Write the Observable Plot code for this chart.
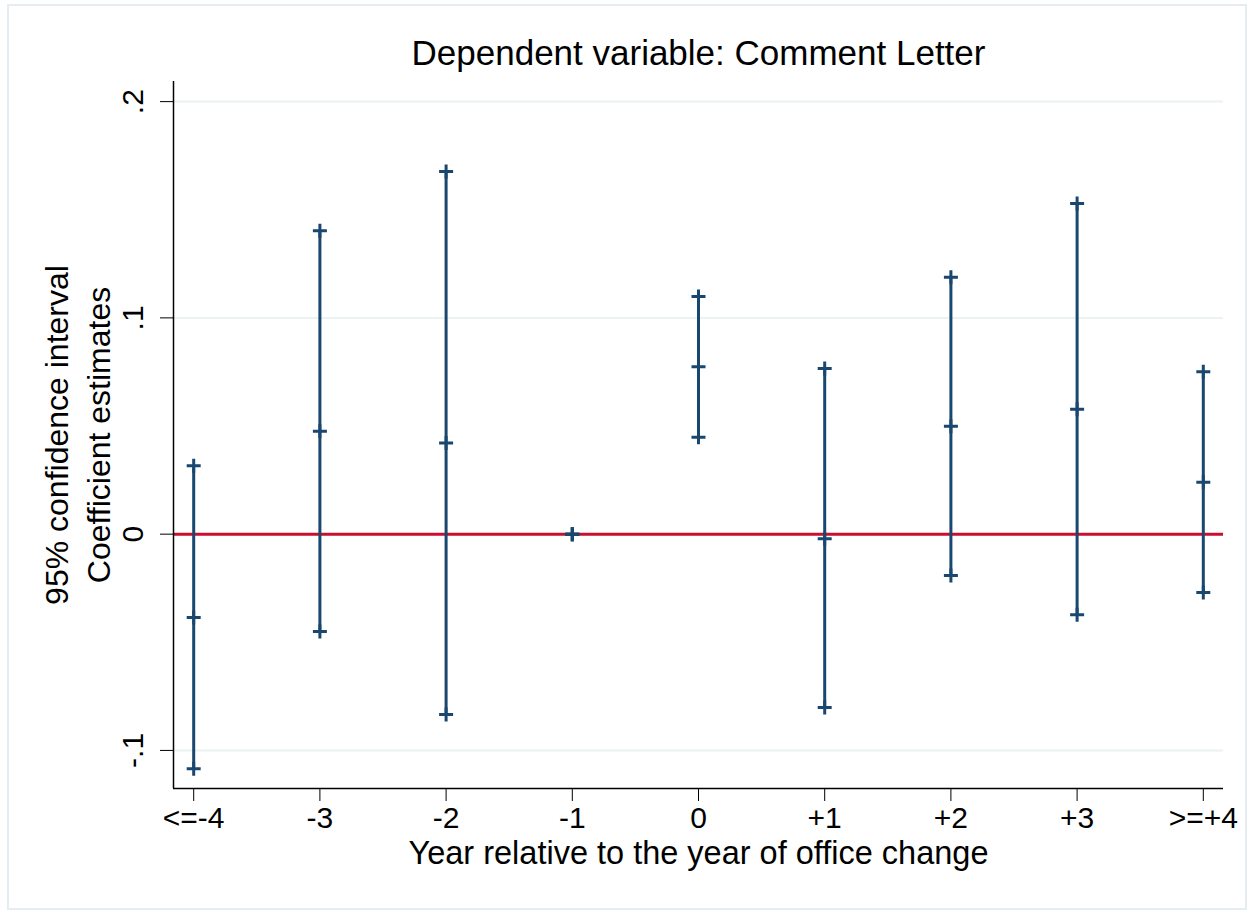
<!DOCTYPE html>
<html><head><meta charset="utf-8">
<script src="https://cdn.jsdelivr.net/npm/d3@7"></script>
<script src="https://cdn.jsdelivr.net/npm/@observablehq/plot@0.6"></script>
<style>
body{margin:0;background:#fff;}
#wrap{position:relative;width:1254px;height:911px;}
#border{position:absolute;left:7px;top:4px;width:1240px;height:906px;border:2px solid #e6edf0;box-sizing:border-box;}
#chart{position:absolute;left:0;top:0;}
</style></head><body><div id="wrap"><div id="border"></div><div id="chart"></div></div>
<script>
const categories = ["<=-4","-3","-2","-1","0","+1","+2","+3",">=+4"];
const coef  = [-0.0385, 0.0476, 0.0421, 0, 0.0774, -0.0021, 0.0499, 0.0578, 0.0240];
const lower = [-0.1085, -0.0450, -0.0834, 0, 0.0448, -0.0801, -0.0191, -0.0373, -0.0270];
const upper = [0.0316, 0.1403, 0.1677, 0, 0.1099, 0.0766, 0.1188, 0.1529, 0.0751];
const yTicks = [-0.1, 0, 0.1, 0.2];
const yTickLabels = ["-.1", "0", ".1", ".2"];
const title = "Dependent variable: Comment Letter";
const xTitle = "Year relative to the year of office change";
const yTitle = ["95% confidence interval", "Coefficient estimates"];
const xDomain = [-0.16, 8.16];
const yDomain = [-0.1176, 0.2093];

const rows = categories.map((c, i) => ({i, c, coef: coef[i], lower: lower[i], upper: upper[i]}));
const points = rows.flatMap(r => [{i: r.i, v: r.lower}, {i: r.i, v: r.coef}, {i: r.i, v: r.upper}]);

const plusSymbol = {
  draw(ctx, size) {
    const r = Math.sqrt(size / Math.PI);
    ctx.moveTo(-r, 0); ctx.lineTo(r, 0);
    ctx.moveTo(0, -r); ctx.lineTo(0, r);
  }
};

const navy = "#1a476f";
const chart = Plot.plot({
  width: 1254, height: 911,
  marginLeft: 173, marginRight: 31, marginTop: 81, marginBottom: 123,
  style: {fontFamily: "'Liberation Sans', Arial, sans-serif", fontSize: "30px", color: "#000", background: "transparent"},
  x: {domain: xDomain},
  y: {domain: yDomain},
  marks: [
    Plot.ruleY(yTicks, {stroke: "#eaf2f3", strokeWidth: 2}),
    Plot.ruleY([0], {stroke: "#c8102e", strokeWidth: 3}),
    Plot.ruleX(rows, {x: "i", y1: "lower", y2: "upper", stroke: navy, strokeWidth: 3}),
    Plot.dot(points, {x: "i", y: "v", symbol: plusSymbol, r: 7, fill: "none", stroke: navy, strokeWidth: 3}),
    Plot.ruleX([xDomain[0]], {stroke: "#000", strokeWidth: 1.5}),
    Plot.ruleY([yDomain[0]], {stroke: "#000", strokeWidth: 1.5}),
    Plot.axisX({ticks: d3.range(categories.length), tickFormat: i => categories[i], tickSize: 13, tickPadding: 5, fontSize: 30, label: null}),
    Plot.axisY({ticks: yTicks, tickFormat: d => yTickLabels[yTicks.indexOf(d)], tickSize: 13, tickPadding: 18, tickRotate: -90, fontSize: 30, label: null}),
    Plot.text([title], {frameAnchor: "top", dy: -28, lineAnchor: "middle", fontSize: 35}),
    Plot.text([xTitle], {frameAnchor: "bottom", dy: 65, lineAnchor: "middle", fontSize: 32.5}),
    Plot.text([yTitle.join("\n")], {frameAnchor: "left", dx: -98, rotate: -90, textAnchor: "middle", lineAnchor: "middle", fontSize: 32, lineHeight: 1.3})
  ]
});
document.getElementById("chart").appendChild(chart);
</script>
</body></html>
